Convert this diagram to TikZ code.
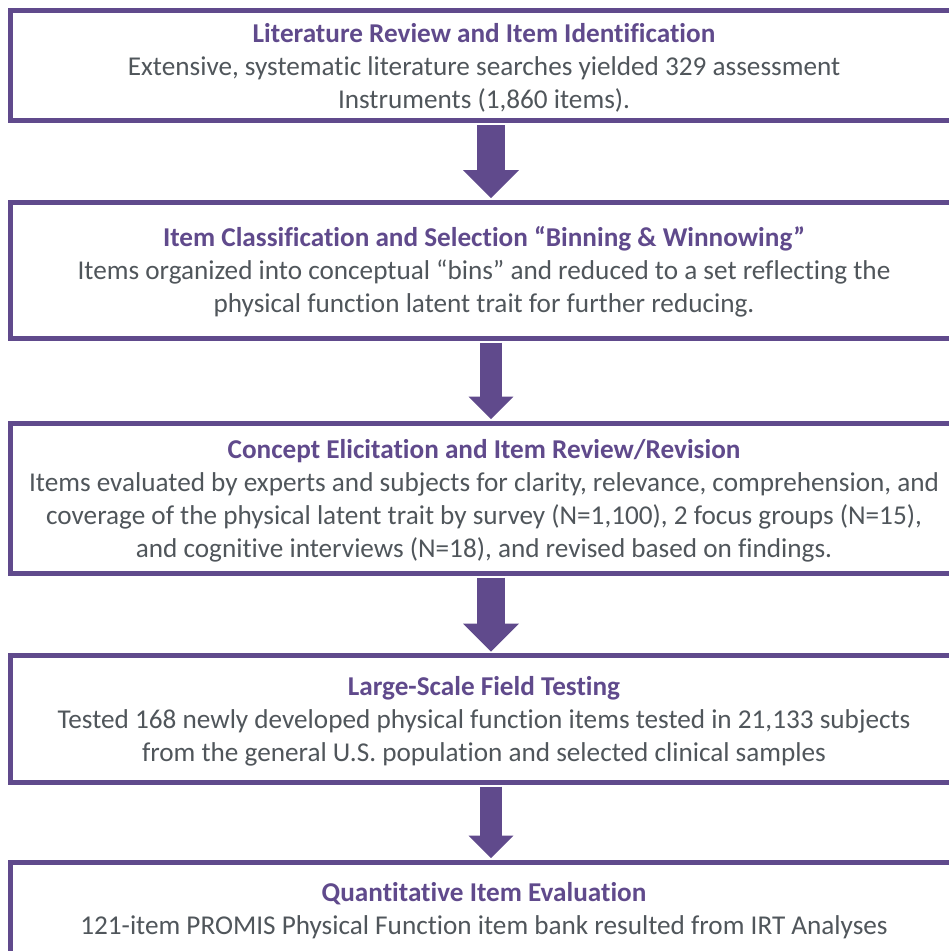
\documentclass[tikz,border=0pt]{standalone}
\usepackage{fontspec}
\setmainfont[Ligatures=NoCommon]{Carlito}
\usetikzlibrary{arrows.meta}

\definecolor{stagepurple}{RGB}{96,74,140}
\definecolor{stagegrey}{RGB}{80,86,91}

\begin{document}
\begin{tikzpicture}[x=1pt,y=-1pt,
  stage/.style={draw=stagepurple, line width=5pt, fill=white, inner sep=0pt,
    minimum width=947pt, align=center, text=stagegrey,
    font=\fontsize{27.2}{33}\selectfont},
  flowarrow/.style={draw=stagepurple, line width=#1,
    -{Triangle[width=2*#1, length=#1, line width=0pt]},
    shorten <=2pt, shorten >=1.5pt}]
  \useasboundingbox (0,0) rectangle (949,951);
  \clip (0,0) rectangle (949,951);
  % bold purple heading; the strut drops the text block a little
  \newcommand{\stagehead}[1]{\rule{0pt}{24.5pt}\textbf{\color{stagepurple}#1}}

  % the five development stages, top to bottom
  \node[stage, minimum height=110pt] (lit) at (484,65.5)
    {\stagehead{Literature Review and Item Identification}\\
     Extensive, systematic literature searches yielded 329 assessment\\
     Instruments (1,860 items).};
  \node[stage, minimum height=136pt] (bin) at (484,270)
    {\stagehead{Item Classification and Selection “Binning \& Winnowing”}\\
     Items organized into conceptual “bins” and reduced to a set reflecting the\\
     physical function latent trait for further reducing.};
  \node[stage, minimum height=150pt] (elicit) at (484,498)
    {\stagehead{Concept Elicitation and Item Review/Revision}\\
     Items evaluated by experts and subjects for clarity, relevance, comprehension, and\\
     coverage of the physical latent trait by survey (N=1,100), 2 focus groups (N=15),\\
     and cognitive interviews (N=18), and revised based on findings.};
  \node[stage, minimum height=126.5pt] (field) at (484,718.75)
    {\stagehead{Large-Scale Field Testing}\\
     Tested 168 newly developed physical function items tested in 21,133 subjects\\
     from the general U.S. population and selected clinical samples};
  \node[stage, minimum height=91pt] (irt) at (484,907.5)
    {\stagehead{Quantitative Item Evaluation}\\
     121-item PROMIS Physical Function item bank resulted from IRT Analyses};

  % block arrows between the stages
  \coordinate (ax) at (491,0);
  \foreach \a/\b/\w in {lit/bin/28pt, bin/elicit/22.4pt, elicit/field/28pt, field/irt/22.4pt}
    \draw[flowarrow=\w] (\a.south -| ax) -- (\b.north -| ax);
\end{tikzpicture}
\end{document}
